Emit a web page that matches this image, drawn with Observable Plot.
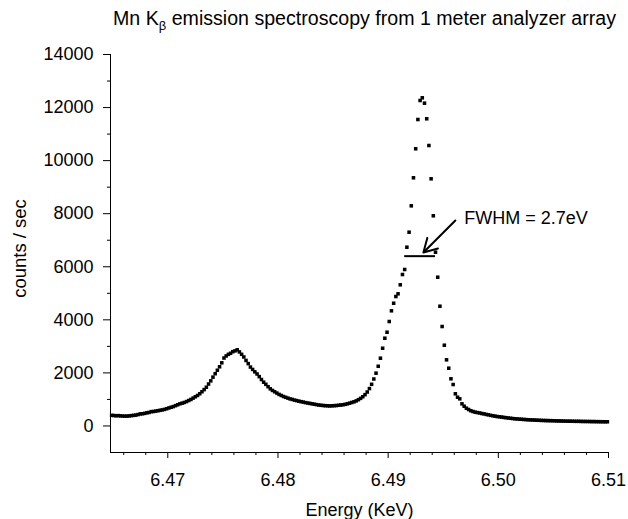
<!DOCTYPE html>
<html><head><meta charset="utf-8">
<script src="https://cdn.jsdelivr.net/npm/d3@7"></script>
<script src="https://cdn.jsdelivr.net/npm/@observablehq/plot@0.6"></script>
<style>
body{margin:0;background:#fff;font-family:"Liberation Sans",Arial,sans-serif;}
#title{height:36px;width:628px;position:relative;}
#title span{position:absolute;left:113px;top:7px;font-size:19.6px;white-space:nowrap;color:#000;}
#title sub{font-size:13px;}
</style></head><body>
<div id="title"><span>Mn K<sub>β</sub> emission spectroscopy from 1 meter analyzer array</span></div>
<div id="chart"></div>
<script>
const energy = [
6.4649,6.4651,6.4653,6.4655,6.4657,6.4659,6.4661,6.4663,6.4665,6.4667,
6.4669,6.4671,6.4673,6.4675,6.4677,6.4679,6.4681,6.4683,6.4685,6.4687,
6.4689,6.4691,6.4693,6.4695,6.4697,6.4699,6.4701,6.4703,6.4705,6.4707,
6.4709,6.4711,6.4713,6.4715,6.4717,6.4719,6.4721,6.4723,6.4725,6.4727,
6.4729,6.4731,6.4733,6.4735,6.4737,6.4739,6.4741,6.4743,6.4745,6.4747,
6.4749,6.4751,6.4753,6.4755,6.4757,6.4759,6.4761,6.4763,6.4765,6.4767,
6.4769,6.4771,6.4773,6.4775,6.4777,6.4779,6.4781,6.4783,6.4785,6.4787,
6.4789,6.4791,6.4793,6.4795,6.4797,6.4799,6.4801,6.4803,6.4805,6.4807,
6.4809,6.4811,6.4813,6.4815,6.4817,6.4819,6.4821,6.4823,6.4825,6.4827,
6.4829,6.4831,6.4833,6.4835,6.4837,6.4839,6.4841,6.4843,6.4845,6.4847,
6.4849,6.4851,6.4853,6.4855,6.4857,6.4859,6.4861,6.4863,6.4865,6.4867,
6.4869,6.4871,6.4873,6.4875,6.4877,6.4879,6.4881,6.4883,6.4885,6.4887,
6.4889,6.4891,6.4893,6.4895,6.4897,6.4899,6.4901,6.4903,6.4905,6.4907,
6.4909,6.4911,6.4913,6.4915,6.4917,6.4919,6.4921,6.4923,6.4925,6.4927,
6.4929,6.4931,6.4933,6.4935,6.4937,6.4939,6.4941,6.4943,6.4945,6.4947,
6.4949,6.4951,6.4953,6.4955,6.4957,6.4959,6.4961,6.4963,6.4965,6.4967,
6.4969,6.4971,6.4973,6.4975,6.4977,6.4979,6.4981,6.4983,6.4985,6.4987,
6.4989,6.4991,6.4993,6.4995,6.4997,6.4999,6.5001,6.5003,6.5005,6.5007,
6.5009,6.5011,6.5013,6.5015,6.5017,6.5019,6.5021,6.5023,6.5025,6.5027,
6.5029,6.5031,6.5033,6.5035,6.5037,6.5039,6.5041,6.5043,6.5045,6.5047,
6.5049,6.5051,6.5053,6.5055,6.5057,6.5059,6.5061,6.5063,6.5065,6.5067,
6.5069,6.5071,6.5073,6.5075,6.5077,6.5079,6.5081,6.5083,6.5085,6.5087,
6.5089,6.5091,6.5093,6.5095,6.5097,6.5099
];
const counts = [
400,395,385,390,380,375,370,372,380,390,
400,410,430,455,460,475,495,510,540,545,
560,575,590,605,625,650,680,705,730,765,
800,835,860,885,920,960,1000,1050,1100,1150,
1215,1290,1370,1460,1580,1700,1840,1970,2100,2230,
2380,2560,2640,2700,2740,2800,2830,2870,2790,2700,
2600,2470,2350,2220,2130,2040,1960,1860,1750,1650,
1570,1480,1400,1340,1290,1240,1190,1150,1110,1080,
1050,1020,1000,975,955,935,915,900,880,865,
850,835,820,805,790,780,770,765,760,755,
760,765,770,780,790,800,815,835,860,885,
910,945,990,1040,1100,1180,1280,1410,1570,1770,
1990,2250,2554,2930,3307,3533,3937,4340,4626,4879,
4981,5320,5708,5897,6737,7303,8297,9353,10446,11550,
12266,12368,12165,11577,10570,9315,7921,6549,5606,4513,
3748,3043,2493,2177,1777,1562,1212,1084,1023,835,
744,669,620,575,545,520,505,490,470,455,
435,420,400,385,370,355,345,335,322,312,
300,290,280,272,265,258,252,246,240,235,
230,226,222,218,214,210,207,204,202,200,
198,195,192,190,188,185,183,180,180,178,
176,175,175,172,170,170,168,168,165,165,
163,162,160,160,158,158
];
const xDomain = [6.4648, 6.51];
const yDomain = [-1000, 14000];
const xMajorTicks = [6.47, 6.48, 6.49, 6.50, 6.51];
const xMinorTicks = [6.466, 6.468, 6.472, 6.474, 6.476, 6.478, 6.482, 6.484, 6.486, 6.488, 6.492, 6.494, 6.496, 6.498, 6.502, 6.504, 6.506, 6.508];
const yMajorTicks = [0, 2000, 4000, 6000, 8000, 10000, 12000, 14000];
const yMinorTicks = [1000, 3000, 5000, 7000, 9000, 11000, 13000];
const xLabel = "Energy (KeV)";
const yLabel = "counts / sec";
const fwhmLine = [{e1: 6.4915, e2: 6.4943, level: 6400}];
const fwhmArrow = [{e1: 6.4961, c1: 7744, e2: 6.4932, c2: 6540}];
const fwhmText = [{e: 6.4969, c: 7820, text: "FWHM = 2.7eV"}];

const data = energy.map((e, i) => ({e, c: counts[i]}));
const font = "Liberation Sans, Arial, sans-serif";

const plot = Plot.plot({
  width: 628, height: 483,
  marginLeft: 110, marginRight: 20, marginTop: 18, marginBottom: 67,
  style: {fontFamily: font, fontSize: "18px", color: "#000", background: "#fff"},
  x: {domain: xDomain},
  y: {domain: yDomain},
  marks: [
    Plot.axisX({ticks: xMajorTicks, tickSize: 6, tickPadding: 15, tickFormat: d3.format(".2f"), label: null, fontSize: 18}),
    Plot.axisX({ticks: xMinorTicks, tickSize: 3, tickFormat: () => "", label: null}),
    Plot.axisY({ticks: yMajorTicks, tickSize: 7, tickPadding: 10, tickFormat: d => String(d), label: null, fontSize: 18}),
    Plot.axisY({ticks: yMinorTicks, tickSize: 3, tickFormat: () => "", label: null}),
    Plot.ruleX([xDomain[0]], {stroke: "#000"}),
    Plot.ruleY([yDomain[0]], {stroke: "#000"}),
    Plot.dot(data, {x: "e", y: "c", symbol: "square", r: 2, fill: "#000", stroke: null}),
    Plot.ruleY(fwhmLine, {y: "level", x1: "e1", x2: "e2", stroke: "#000", strokeWidth: 2}),
    Plot.arrow(fwhmArrow, {x1: "e1", y1: "c1", x2: "e2", y2: "c2", stroke: "#000", strokeWidth: 2, headLength: 12}),
    Plot.text(fwhmText, {x: "e", y: "c", text: "text", textAnchor: "start", fontSize: 18, fill: "#000"}),
    Plot.text([xLabel], {text: d => d, frameAnchor: "bottom", lineAnchor: "middle", dy: 58, fontSize: 18, fill: "#000"}),
    Plot.text([yLabel], {text: d => d, frameAnchor: "left", textAnchor: "middle", lineAnchor: "middle", dx: -90, dy: -5, rotate: -90, fontSize: 18.5, fill: "#000"})
  ]
});
document.getElementById("chart").appendChild(plot);
</script>
</body></html>
